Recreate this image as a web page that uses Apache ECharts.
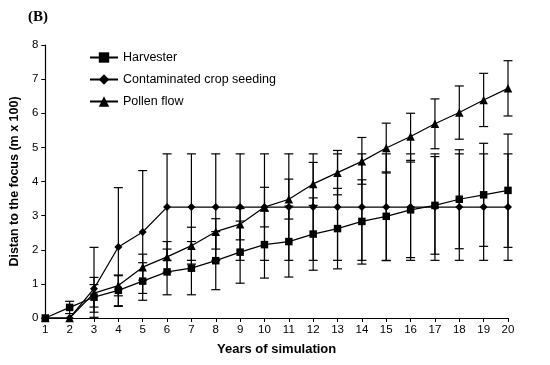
<!DOCTYPE html>
<html>
<head>
<meta charset="utf-8">
<script src="https://cdn.jsdelivr.net/npm/echarts@6/dist/echarts.min.js"></script>
<style>html,body{margin:0;padding:0;background:#fff;}#chart{width:550px;height:365px;}</style>
</head>
<body>
<div id="chart"></div>
<script>
var years = [1,2,3,4,5,6,7,8,9,10,11,12,13,14,15,16,17,18,19,20];
var yTicks = [0,1,2,3,4,5,6,7,8];

var harvester     = [0, 0.31, 0.61, 0.81, 1.08, 1.35, 1.46, 1.68, 1.93, 2.15, 2.24, 2.46, 2.62, 2.83, 2.98, 3.17, 3.30, 3.48, 3.61, 3.74];
var harvesterLow  = [0, 0.13, 0.32, 0.36, 0.52, 0.68, 0.68, 0.83, 1.02, 1.17, 1.20, 1.40, 1.44, 1.58, 1.68, 1.77, 1.87, 2.03, 2.10, 2.07];
var harvesterHigh = [0, 0.49, 0.98, 1.26, 1.62, 2.02, 2.24, 2.53, 2.84, 3.13, 3.28, 3.52, 3.80, 4.05, 4.28, 4.57, 4.73, 4.93, 5.12, 5.39];

var seeding     = [0, 0, 0.86, 2.08, 2.52, 3.25, 3.25, 3.25, 3.25, 3.25, 3.25, 3.25, 3.25, 3.25, 3.25, 3.25, 3.25, 3.25, 3.25, 3.25];
var seedingLow  = [0, 0, 0.02, 0.34, 0.72, 1.69, 1.69, 1.69, 1.69, 1.69, 1.69, 1.69, 1.69, 1.69, 1.69, 1.69, 1.69, 1.69, 1.69, 1.69];
var seedingHigh = [0, 0, 2.07, 3.82, 4.32, 4.81, 4.81, 4.81, 4.81, 4.81, 4.81, 4.81, 4.81, 4.81, 4.81, 4.81, 4.81, 4.81, 4.81, 4.81];

var pollen     = [0, 0, 0.73, 0.95, 1.49, 1.79, 2.12, 2.53, 2.75, 3.25, 3.48, 3.93, 4.26, 4.59, 4.98, 5.32, 5.69, 6.02, 6.39, 6.73];
var pollenLow  = [0, 0, 0.17, 0.65, 1.11, 1.34, 1.58, 2.02, 2.29, 2.67, 2.90, 3.30, 3.61, 3.92, 4.25, 4.62, 4.96, 5.24, 5.61, 5.92];
var pollenHigh = [0, 0, 1.19, 1.24, 1.87, 2.24, 2.66, 2.91, 3.21, 3.83, 4.07, 4.56, 4.91, 5.29, 5.71, 6.00, 6.42, 6.80, 7.17, 7.54];

function pts(vals){ return years.map(function(x,i){ return [x, vals[i]]; }); }
function errData(low, high){ return years.map(function(x,i){ return [x, low[i], high[i]]; }); }

function errorSeries(low, high){
  return {
    type: 'custom',
    z: 1,
    silent: true,
    renderItem: function(params, api){
      var x = api.value(0), lo = api.value(1), hi = api.value(2);
      if (hi - lo < 1e-6) return null;
      var pLo = api.coord([x, lo]);
      var pHi = api.coord([x, hi]);
      var w = 4.5;
      var st = {stroke:'#000', lineWidth:1.2};
      return {type:'group', children:[
        {type:'line', shape:{x1:pLo[0], y1:pLo[1], x2:pHi[0], y2:pHi[1]}, style:st},
        {type:'line', shape:{x1:pLo[0]-w, y1:pLo[1], x2:pLo[0]+w, y2:pLo[1]}, style:st},
        {type:'line', shape:{x1:pHi[0]-w, y1:pHi[1], x2:pHi[0]+w, y2:pHi[1]}, style:st}
      ]};
    },
    encode: {x:0, y:[1,2]},
    data: errData(low, high)
  };
}

function lineSeries(name, vals, symbol, size){
  return {
    name: name, type:'line', z: 3,
    data: pts(vals),
    symbol: symbol, symbolSize: size,
    lineStyle:{color:'#000', width:1.2},
    itemStyle:{color:'#000'},
    showAllSymbol: true,
    animation:false
  };
}

var chart = echarts.init(document.getElementById('chart'));
chart.setOption({
  animation: false,
  backgroundColor:'#fff',
  title: {
    text: '(B)', left: 23, top: 5,
    textStyle:{fontFamily:'Liberation Serif', fontWeight:'bold', fontSize:15, color:'#000'}
  },
  legend: {
    orient:'vertical', left: 84, top: 46, itemGap: 9,
    itemWidth: 28, itemHeight: 13,
    textStyle:{fontFamily:'Liberation Sans', fontSize:12.5, color:'#000'},
    data:['Harvester','Contaminated crop seeding','Pollen flow']
  },
  grid: {left:45, right:42, top:45, bottom:47},
  xAxis: {
    type:'value', min:1, max:20, interval:1,
    name:'Years of simulation', nameLocation:'middle', nameGap:25,
    nameTextStyle:{fontFamily:'Liberation Sans', fontWeight:'bold', fontSize:13, color:'#000'},
    axisLine:{lineStyle:{color:'#000', width:1.2}},
    axisTick:{show:true, length:4, lineStyle:{color:'#000'}},
    axisLabel:{color:'#000', fontFamily:'Liberation Sans', fontSize:11.5, margin:6},
    splitLine:{show:false}
  },
  yAxis: {
    type:'value', min:0, max:8, interval:1,
    name:'Distan to the focus (m x 100)', nameLocation:'middle', nameGap:24,
    nameTextStyle:{fontFamily:'Liberation Sans', fontWeight:'bold', fontSize:12.5, color:'#000'},
    axisLine:{show:true, lineStyle:{color:'#000', width:1.2}},
    axisTick:{show:true, length:4, lineStyle:{color:'#000'}},
    axisLabel:{color:'#000', fontFamily:'Liberation Sans', fontSize:11.5, margin:7,
      formatter:function(v){ return yTicks.indexOf(v) >= 0 ? String(v) : ''; }},
    splitLine:{show:false}
  },
  series: [
    errorSeries(harvesterLow, harvesterHigh),
    errorSeries(seedingLow, seedingHigh),
    errorSeries(pollenLow, pollenHigh),
    lineSeries('Harvester', harvester, 'rect', 7.5),
    lineSeries('Contaminated crop seeding', seeding, 'diamond', 8),
    lineSeries('Pollen flow', pollen, 'triangle', 8.5)
  ]
});
</script>
</body>
</html>
